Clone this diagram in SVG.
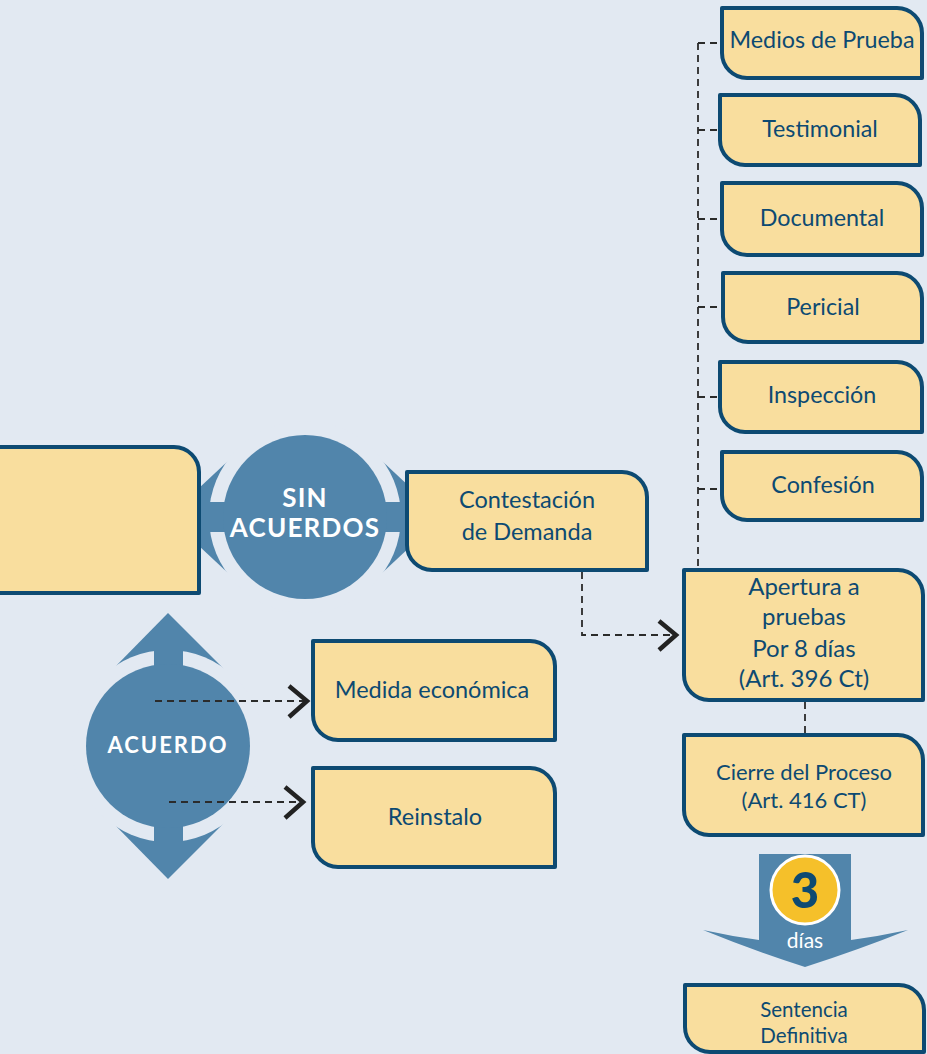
<svg xmlns="http://www.w3.org/2000/svg" width="927" height="1054" viewBox="0 0 927 1054">
  <defs>
    <style>
      .bg { fill: #e2e9f2; }
      .node { fill: #f9de9e; stroke: #0d4a72; stroke-width: 4; stroke-linejoin: round; }
      .label { font-family: Lato, "Open Sans", "Liberation Sans", sans-serif; fill: #0d4a72; text-anchor: middle; }
      .hub { fill: #5185ab; }
      .hub-text { font-family: Lato, "Liberation Sans", sans-serif; font-weight: bold; fill: #ffffff; text-anchor: middle; }
      .dash { fill: none; stroke: #2b2b2b; stroke-width: 1.8; stroke-dasharray: 7 5; }
      .chev { fill: none; stroke: #222222; stroke-width: 4.5; stroke-linecap: butt; stroke-linejoin: miter; }
    </style>
  </defs>

  <rect class="bg" x="0" y="0" width="927" height="1054"/>

  <!-- SIN ACUERDOS hub with double horizontal arrow -->
  <g id="hub-sin-acuerdos">
    <polygon class="hub" points="229,460 168,517 229,574"/>
    <polygon class="hub" points="381,460 442,517 381,574"/>
    <circle class="bg" cx="305" cy="517" r="96"/>
    <rect class="hub" x="180" y="502" width="250" height="30"/>
    <circle class="hub" cx="305" cy="517" r="82"/>
    <text class="hub-text" x="305" y="507" font-size="26" letter-spacing="1.2">SIN</text>
    <text class="hub-text" x="305" y="537" font-size="26" letter-spacing="1.2">ACUERDOS</text>
  </g>

  <!-- ACUERDO hub with double vertical arrow -->
  <g id="hub-acuerdo">
    <polygon class="hub" points="112,670 168,613 225,670"/>
    <polygon class="hub" points="112,822 168,879 225,822"/>
    <circle class="bg" cx="168" cy="746" r="96"/>
    <rect class="hub" x="154" y="630" width="29" height="232"/>
    <circle class="hub" cx="168" cy="746" r="82"/>
    <text class="hub-text" x="168" y="753" font-size="22" letter-spacing="2">ACUERDO</text>
  </g>

  <!-- large box on the left edge -->
  <g id="node-inicio">
    <path class="node" d="M-10,447 H174 A25,25 0 0 1 199,472 V593 H-10 Z"/>
  </g>

  <!-- connectors -->
  <g id="connectors">
    <!-- spine linking the evidence types to "Apertura a pruebas" -->
    <path class="dash" d="M698,43 V570"/>
    <path class="dash" d="M698,43 H722"/>
    <path class="dash" d="M698,130 H720"/>
    <path class="dash" d="M698,219 H722"/>
    <path class="dash" d="M698,307 H723"/>
    <path class="dash" d="M698,397 H720"/>
    <path class="dash" d="M698,489 H722"/>
    <!-- Contestación -> Apertura -->
    <path class="dash" d="M582,572 V635 H674"/>
    <path class="chev" d="M659,621 L676,635 L659,650"/>
    <!-- Apertura -> Cierre -->
    <path class="dash" d="M805,702 V735"/>
    <!-- Acuerdo -> outcomes -->
    <path class="dash" d="M155,701 H305"/>
    <path class="chev" d="M289,686 L307,701 L289,717"/>
    <path class="dash" d="M169,802 H301"/>
    <path class="chev" d="M285,787 L303,802 L285,818"/>
  </g>

  <g id="node-contestacion">
    <path class="node" d="M407,472 H622 A25,25 0 0 1 647,497 V570 H432 A25,25 0 0 1 407,545 Z"/>
    <text class="label" x="527" y="508" font-size="23.5">Contestación</text>
    <text class="label" x="527" y="540" font-size="23.5">de Demanda</text>
  </g>

  <g id="node-medida">
    <path class="node" d="M313,641 H530 A25,25 0 0 1 555,666 V740 H338 A25,25 0 0 1 313,715 Z"/>
    <text class="label" x="432" y="698" font-size="23.5">Medida económica</text>
  </g>

  <g id="node-reinstalo">
    <path class="node" d="M313,768 H530 A25,25 0 0 1 555,793 V867 H338 A25,25 0 0 1 313,842 Z"/>
    <text class="label" x="435" y="825" font-size="23.5">Reinstalo</text>
  </g>

  <g id="node-medios">
    <path class="node" d="M722,8 H897 A25,25 0 0 1 922,33 V78 H747 A25,25 0 0 1 722,53 Z"/>
    <text class="label" x="822" y="48" font-size="23.3">Medios de Prueba</text>
  </g>

  <g id="node-testimonial">
    <path class="node" d="M720,95 H895 A25,25 0 0 1 920,120 V165 H745 A25,25 0 0 1 720,140 Z"/>
    <text class="label" x="820" y="137" font-size="23.3">Testimonial</text>
  </g>

  <g id="node-documental">
    <path class="node" d="M722,183 H897 A25,25 0 0 1 922,208 V255 H747 A25,25 0 0 1 722,230 Z"/>
    <text class="label" x="822" y="226" font-size="23.3">Documental</text>
  </g>

  <g id="node-pericial">
    <path class="node" d="M723,273 H897 A25,25 0 0 1 922,298 V342 H748 A25,25 0 0 1 723,317 Z"/>
    <text class="label" x="823" y="315" font-size="23.3">Pericial</text>
  </g>

  <g id="node-inspeccion">
    <path class="node" d="M720,362 H897 A25,25 0 0 1 922,387 V432 H745 A25,25 0 0 1 720,407 Z"/>
    <text class="label" x="822" y="403" font-size="23.3">Inspección</text>
  </g>

  <g id="node-confesion">
    <path class="node" d="M722,452 H897 A25,25 0 0 1 922,477 V520 H747 A25,25 0 0 1 722,495 Z"/>
    <text class="label" x="823" y="493" font-size="23.3">Confesión</text>
  </g>

  <g id="node-apertura">
    <path class="node" d="M684,570 H898 A25,25 0 0 1 923,595 V700 H709 A25,25 0 0 1 684,675 Z"/>
    <text class="label" x="804" y="595" font-size="24">Apertura a</text>
    <text class="label" x="804" y="625" font-size="24">pruebas</text>
    <text class="label" x="804" y="657" font-size="24">Por 8 días</text>
    <text class="label" x="804" y="687" font-size="24">(Art. 396 Ct)</text>
  </g>

  <g id="node-cierre">
    <path class="node" d="M684,735 H898 A25,25 0 0 1 923,760 V835 H709 A25,25 0 0 1 684,810 Z"/>
    <text class="label" x="804" y="780" font-size="22">Cierre del Proceso</text>
    <text class="label" x="804" y="808" font-size="22">(Art. 416 CT)</text>
  </g>

  <!-- "3 días" downward arrow badge -->
  <g id="badge-plazo">
    <path class="hub" d="M759,854 H851 V940 Q880,936 908,930 Q858,950 805,967 Q752,950 703,930 Q730,936 759,940 Z"/>
    <circle cx="805" cy="890" r="34" fill="#f5c02a" stroke="#ffffff" stroke-width="3"/>
    <text x="805" y="908" font-family="Lato, 'Liberation Sans', sans-serif" font-weight="900" font-size="49" fill="#0d4a72" text-anchor="middle">3</text>
    <text x="805" y="948" font-family="Lato, 'Liberation Sans', sans-serif" font-size="21" fill="#ffffff" text-anchor="middle">días</text>
  </g>

  <g id="node-sentencia">
    <path class="node" d="M685,985 H899 A25,25 0 0 1 924,1010 V1052 H710 A25,25 0 0 1 685,1027 Z"/>
    <text class="label" x="804" y="1017" font-size="20.5">Sentencia</text>
    <text class="label" x="804" y="1043" font-size="20.5">Definitiva</text>
  </g>
</svg>
